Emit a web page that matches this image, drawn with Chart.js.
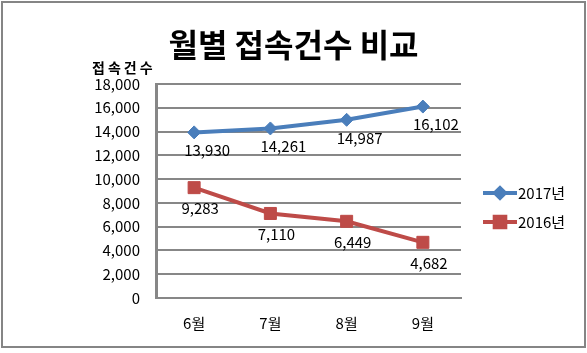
<!DOCTYPE html>
<html lang="ko">
<head>
<meta charset="utf-8">
<title>월별 접속건수 비교</title>
<script src="https://cdn.jsdelivr.net/npm/chart.js@4/dist/chart.umd.min.js"></script>
<style>
  html, body { margin: 0; padding: 0; background: #fff; }
  #wrap { width: 587px; height: 353px; }
</style>
</head>
<body>
<div id="wrap"><canvas id="chart" width="587" height="353"></canvas></div>
<script>
// values
const months = ["6월", "7월", "8월", "9월"];
const visits2017 = [13930, 14261, 14987, 16102];
const visits2016 = [9283, 7110, 6449, 4682];
const yTicks = [0, 2000, 4000, 6000, 8000, 10000, 12000, 14000, 16000, 18000];

const FONT = "'Noto Sans CJK KR', 'Noto Sans', sans-serif";
const GRID = "#878787";

Chart.defaults.font.family = FONT;
Chart.defaults.color = "#000";

// outer frame + title, centred on the whole picture (not the plot)
const framePlugin = {
  id: "frame",
  afterDraw(chart) {
    const ctx = chart.ctx;
    ctx.save();
    ctx.strokeStyle = "#858585";
    ctx.lineWidth = 2;
    ctx.strokeRect(2, 2, 583, 345);
    ctx.font = "bold 32px " + FONT;
    ctx.fillStyle = "#000";
    ctx.textAlign = "center";
    ctx.textBaseline = "middle";
    ctx.fillText("월별 접속건수 비교", chart.width / 2, 45);
    ctx.restore();
  },
};

// horizontal axis caption above the y axis
const yCaptionPlugin = {
  id: "yCaption",
  afterDraw(chart) {
    const ctx = chart.ctx;
    const area = chart.chartArea;
    ctx.save();
    ctx.font = "bold 14px " + FONT;
    ctx.fillStyle = "#000";
    ctx.textAlign = "left";
    ctx.textBaseline = "middle";
    ctx.letterSpacing = "3px";
    ctx.fillText("접속건수", area.left - 64, area.top - 16);
    ctx.restore();
  },
};

// value labels under each point
const valueLabelPlugin = {
  id: "valueLabels",
  afterDatasetsDraw(chart, args, opts) {
    const ctx = chart.ctx;
    ctx.save();
    ctx.font = "15px " + FONT;
    ctx.fillStyle = "#000";
    ctx.textAlign = "center";
    ctx.textBaseline = "middle";
    chart.data.datasets.forEach((ds, i) => {
      const meta = chart.getDatasetMeta(i);
      const off = opts.offsets[i] || { dx: 0, dy: 18 };
      meta.data.forEach((pt, j) => {
        ctx.fillText(ds.data[j].toLocaleString("en-US"), pt.x + off.dx, pt.y + off.dy);
      });
    });
    ctx.restore();
  },
};

// legend on the right: line + marker + name
const legendPlugin = {
  id: "sideLegend",
  afterDraw(chart) {
    const ctx = chart.ctx;
    const area = chart.chartArea;
    const x0 = area.right + 22;
    chart.data.datasets.forEach((ds, i) => {
      const y = area.top + 109 + i * 29;
      ctx.save();
      ctx.strokeStyle = ds.borderColor;
      ctx.lineWidth = 4;
      ctx.beginPath();
      ctx.moveTo(x0, y);
      ctx.lineTo(x0 + 34, y);
      ctx.stroke();
      ctx.fillStyle = ds.borderColor;
      ctx.strokeStyle = ds.borderColor;
      Chart.helpers.drawPoint(
        ctx,
        { pointStyle: ds.pointStyle, radius: ds.legendRadius, borderWidth: 1, rotation: 0 },
        x0 + 17,
        y
      );
      ctx.font = "15px " + FONT;
      ctx.fillStyle = "#000";
      ctx.textAlign = "left";
      ctx.textBaseline = "middle";
      ctx.fillText(ds.label, x0 + 35, y);
      ctx.restore();
    });
  },
};

new Chart(document.getElementById("chart"), {
  type: "line",
  data: {
    labels: months,
    datasets: [
      {
        label: "2017년",
        data: visits2017,
        borderColor: "#4A7EBB",
        backgroundColor: "#4A7EBB",
        borderWidth: 4,
        pointStyle: "rectRot",
        pointRadius: 6.5,
        pointBorderWidth: 1,
        legendRadius: 5,
        tension: 0,
      },
      {
        label: "2016년",
        data: visits2016,
        borderColor: "#BE4B48",
        backgroundColor: "#BE4B48",
        borderWidth: 4,
        pointStyle: "rect",
        pointRadius: 8.5,
        pointBorderWidth: 1,
        legendRadius: 7.5,
        tension: 0,
      },
    ],
  },
  options: {
    responsive: false,
    animation: false,
    layout: { padding: { top: 84, right: 126, bottom: 0, left: 0 } },
    plugins: {
      legend: { display: false },
      tooltip: { enabled: false },
      title: { display: false },
      valueLabels: {
        offsets: [
          { dx: 13, dy: 18 },
          { dx: 6, dy: 21 },
        ],
      },
    },
    scales: {
      x: {
        offset: true,
        grid: { display: false, drawTicks: false },
        border: { color: GRID, width: 2 },
        ticks: { font: { size: 15 }, color: "#000", padding: 16 },
        afterFit(s) {
          s.height = 55;
        },
      },
      y: {
        min: 0,
        max: 18000,
        afterBuildTicks(s) {
          s.ticks = yTicks.map((v) => ({ value: v }));
        },
        grid: { color: GRID, lineWidth: 2, drawTicks: false },
        border: { color: GRID, width: 3 },
        ticks: {
          font: { size: 15 },
          color: "#000",
          padding: 16,
          callback: (v) => Number(v).toLocaleString("en-US"),
        },
        afterFit(s) {
          s.width = 156;
        },
      },
    },
  },
  plugins: [framePlugin, yCaptionPlugin, valueLabelPlugin, legendPlugin],
});
</script>
</body>
</html>
